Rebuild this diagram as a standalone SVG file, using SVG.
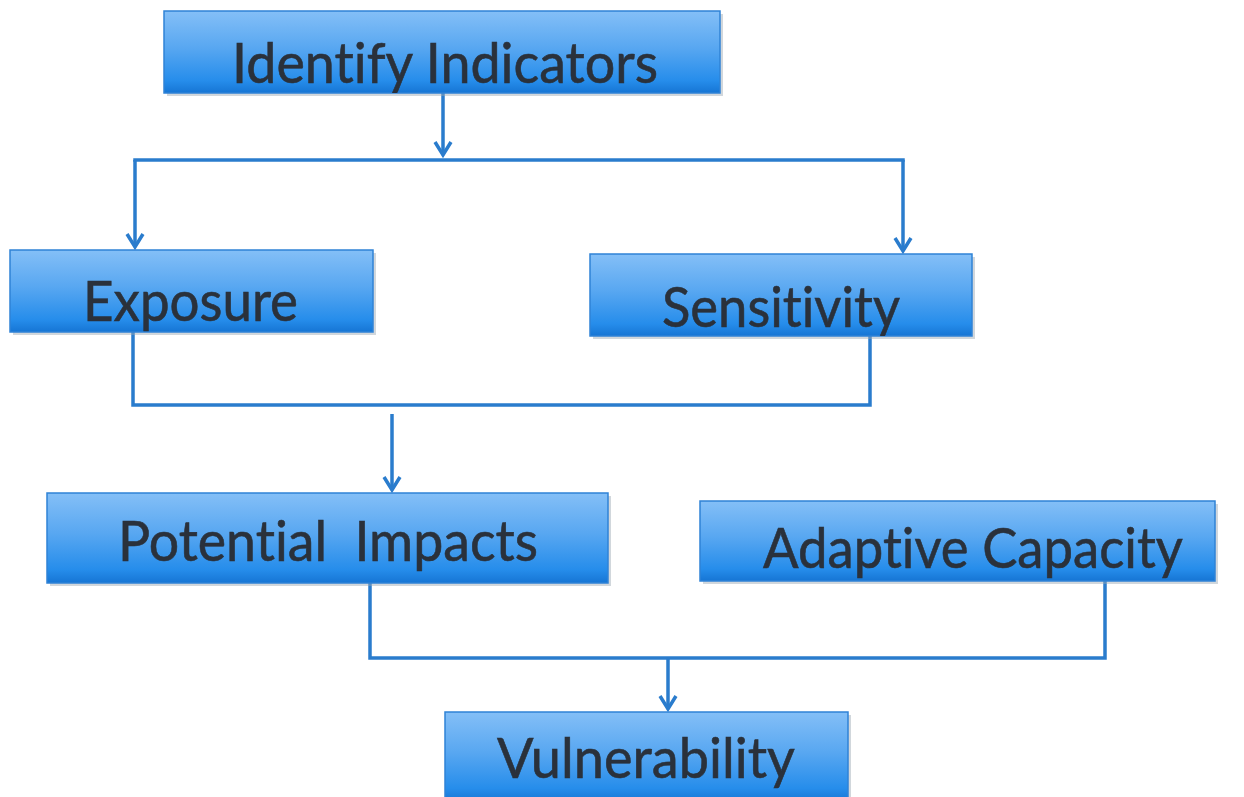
<svg xmlns="http://www.w3.org/2000/svg" width="1244" height="797" viewBox="0 0 1244 797">
  <defs>
    <style>
      .box { fill: url(#boxFill); stroke: #2f83d6; stroke-width: 1.5; }
      .shadow { fill: #9aa6b2; opacity: 0.45; }
      .label { font-family: "Lato", "Open Sans", "Liberation Sans", sans-serif; font-size: 56px; fill: #2a313b; stroke: #2a313b; stroke-width: 0.6; white-space: pre; font-variant-ligatures: none; }
      .wire { fill: none; stroke: #2a7ccd; stroke-width: 3.5; stroke-linecap: square; }
      .arrow { fill: none; stroke: #2a7ccd; stroke-width: 3.5; marker-end: url(#chevron); }
    </style>
    <linearGradient id="boxFill" x1="0" y1="0" x2="0" y2="1">
      <stop offset="0" stop-color="#84bff7"/>
      <stop offset="0.45" stop-color="#58a7f1"/>
      <stop offset="0.85" stop-color="#268deb"/>
      <stop offset="1" stop-color="#1675d4"/>
    </linearGradient>
    <marker id="chevron" markerUnits="userSpaceOnUse" viewBox="-16 -11 18 22" markerWidth="18" markerHeight="22" refX="0" refY="0" orient="auto" overflow="visible">
      <path d="M-13,-8 L0,0 L-13,8" fill="none" stroke="#2a7ccd" stroke-width="3.5" stroke-linejoin="miter"/>
    </marker>
    <clipPath id="clipIdentify"><rect x="164" y="11" width="556" height="82"/></clipPath>
    <clipPath id="clipExposure"><rect x="10" y="250" width="363" height="82"/></clipPath>
    <clipPath id="clipSensitivity"><rect x="590" y="254" width="382" height="82"/></clipPath>
    <clipPath id="clipPotential"><rect x="47" y="493" width="561" height="90"/></clipPath>
    <clipPath id="clipAdaptive"><rect x="700" y="501" width="515" height="80"/></clipPath>
    <clipPath id="clipVulnerability"><rect x="445" y="712" width="403" height="90"/></clipPath>
  </defs>

  <rect width="1244" height="797" fill="#ffffff"/>

  <!-- connectors -->
  <g id="connectors">
    <path class="arrow" d="M443,93 V155"/>
    <path class="wire" d="M135,160 H903"/>
    <path class="arrow" d="M135,160 V247"/>
    <path class="arrow" d="M903,160 V251"/>
    <path class="wire" d="M133,332 V405 H870 V336"/>
    <path class="arrow" d="M392,414 V490"/>
    <path class="wire" d="M370,583 V658 H1105 V581"/>
    <path class="arrow" d="M668,658 V709"/>
  </g>

  <!-- nodes -->
  <g id="node-identify-indicators">
    <rect class="shadow" x="167" y="14" width="556" height="82"/>
    <rect class="box" x="164" y="11" width="556" height="82"/>
    <text class="label" x="232" y="83" textLength="426" lengthAdjust="spacingAndGlyphs" clip-path="url(#clipIdentify)">Identify Indicators</text>
  </g>

  <g id="node-exposure">
    <rect class="shadow" x="13" y="253" width="363" height="82"/>
    <rect class="box" x="10" y="250" width="363" height="82"/>
    <text class="label" x="83" y="321" textLength="215" lengthAdjust="spacingAndGlyphs" clip-path="url(#clipExposure)">Exposure</text>
  </g>

  <g id="node-sensitivity">
    <rect class="shadow" x="593" y="257" width="382" height="82"/>
    <rect class="box" x="590" y="254" width="382" height="82"/>
    <text class="label" x="662" y="327" textLength="238" lengthAdjust="spacingAndGlyphs" clip-path="url(#clipSensitivity)">Sensitivity</text>
  </g>

  <g id="node-potential-impacts">
    <rect class="shadow" x="50" y="496" width="561" height="90"/>
    <rect class="box" x="47" y="493" width="561" height="90"/>
    <text class="label" x="118" y="561" textLength="420" lengthAdjust="spacingAndGlyphs" clip-path="url(#clipPotential)">Potential  Impacts</text>
  </g>

  <g id="node-adaptive-capacity">
    <rect class="shadow" x="703" y="504" width="515" height="80"/>
    <rect class="box" x="700" y="501" width="515" height="80"/>
    <text class="label" x="763" y="568" textLength="420" lengthAdjust="spacingAndGlyphs" clip-path="url(#clipAdaptive)">Adaptive Capacity</text>
  </g>

  <g id="node-vulnerability">
    <rect class="shadow" x="448" y="715" width="403" height="90"/>
    <rect class="box" x="445" y="712" width="403" height="90"/>
    <text class="label" x="497" y="778" textLength="298" lengthAdjust="spacingAndGlyphs" clip-path="url(#clipVulnerability)">Vulnerability</text>
  </g>
</svg>
